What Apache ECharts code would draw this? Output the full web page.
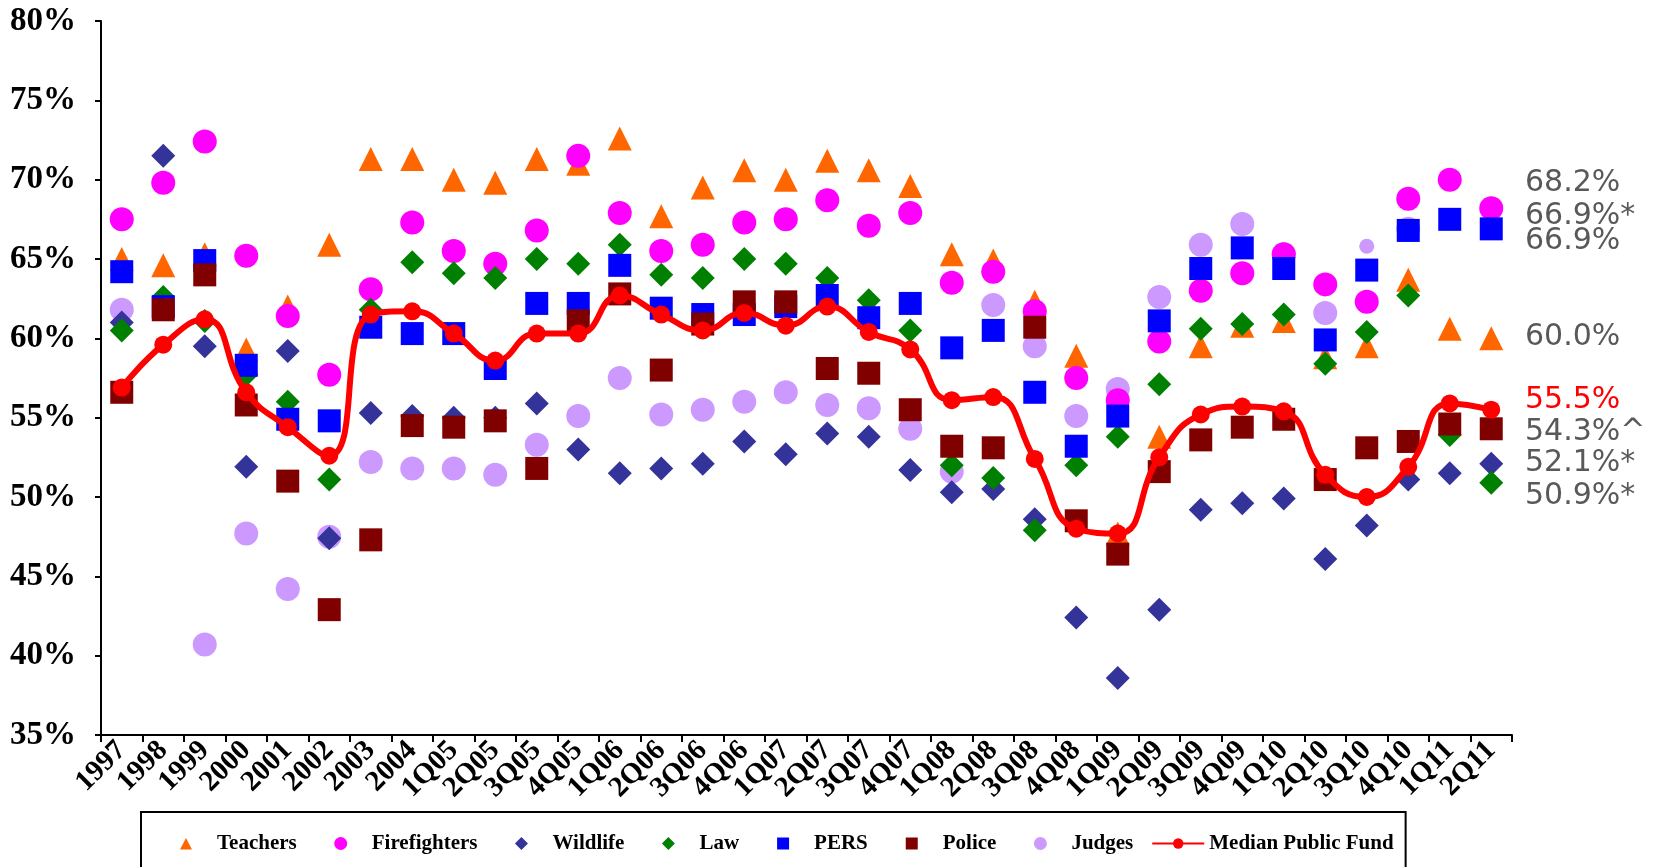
<!DOCTYPE html>
<html><head><meta charset="utf-8">
<script src="https://cdn.jsdelivr.net/npm/echarts@6/dist/echarts.min.js"></script>
<style>html,body{margin:0;padding:0;background:#fff}#c{width:1659px;height:867px}</style>
</head><body><div id="c"></div>
<script>
const categories = ['1997','1998','1999','2000','2001','2002','2003','2004','1Q05','2Q05','3Q05','4Q05','1Q06','2Q06','3Q06','4Q06','1Q07','2Q07','3Q07','4Q07','1Q08','2Q08','3Q08','4Q08','1Q09','2Q09','3Q09','4Q09','1Q10','2Q10','3Q10','4Q10','1Q11','2Q11'];
const teachers = [65.0,64.6,65.3,59.3,62.0,65.9,71.3,71.3,70.0,69.8,71.3,71.0,72.6,67.7,69.5,70.6,70.0,71.2,70.6,69.6,65.3,64.9,62.3,58.9,47.7,53.8,59.5,60.8,61.1,58.8,59.5,63.7,60.6,60.0];
const firefighters = [67.5,69.8,72.4,65.2,61.4,57.7,63.1,67.3,65.5,64.7,66.8,71.5,67.9,65.5,65.9,67.3,67.5,68.7,67.1,67.9,63.5,64.2,61.7,57.5,56.1,59.8,63.0,64.1,65.3,63.4,62.3,68.8,70.0,68.2];
const wildlife = [61.0,71.5,59.5,51.9,59.2,47.4,55.3,55.1,55.0,55.0,55.9,53.0,51.5,51.8,52.1,53.5,52.7,54.0,53.8,51.7,50.3,50.5,48.6,42.4,38.6,42.9,49.2,49.6,49.9,46.1,48.2,51.1,51.5,52.1];
const law = [60.5,62.6,61.1,57.7,56.0,51.1,61.8,64.8,64.1,63.8,65.0,64.7,65.9,64.0,63.8,65.0,64.7,63.8,62.4,60.5,52.0,51.2,47.9,52.0,53.8,57.1,60.6,60.9,61.5,58.4,60.4,62.7,53.9,50.9];
const pers = [64.2,62.0,64.9,58.3,54.9,54.8,60.7,60.3,60.3,58.1,62.2,62.2,64.6,61.9,61.5,61.5,62.0,62.7,61.3,62.2,59.4,60.5,56.6,53.2,55.1,61.1,64.4,65.7,64.4,59.9,64.3,66.8,67.5,66.9];
const police = [56.6,61.8,64.0,55.8,51.0,42.9,47.3,54.5,54.4,54.8,51.8,61.1,62.8,58.0,60.9,62.3,62.3,58.1,57.8,55.5,53.2,53.1,60.7,48.5,46.4,51.6,53.6,54.4,54.9,51.1,53.1,53.5,54.6,54.3];
const judges = [61.8,null,40.7,47.7,44.2,47.5,52.2,51.8,51.8,51.4,53.3,55.1,57.5,55.2,55.5,56.0,56.6,55.8,55.6,54.3,51.6,62.1,59.5,55.1,56.8,62.6,65.9,67.2,65.3,61.6,65.8,66.9,null,null];
const median = [56.9,59.6,61.2,56.6,54.4,52.6,61.5,61.7,60.3,58.6,60.3,60.3,62.7,61.5,60.5,61.6,60.8,62.0,60.4,59.3,56.1,56.3,52.4,48.0,47.7,52.5,55.2,55.7,55.4,51.4,50.0,51.9,55.9,55.5];
const yTicks = {min: 35, max: 80, step: 5};
const endNotes = ['68.2%','66.9%*','66.9%','60.0%','55.5%','54.3%^','52.1%*','50.9%*'];
const endNoteRed = [false,false,false,false,true,false,false,false];

const serif = '"Liberation Serif","Times New Roman",serif';
const noteY = [183,216,241,337,400,432,463,496];

// legend icons drawn in a 52x13 box so the symbol keeps its shape
const PAD = 'M0,0 M52,13 ';
const icons = {
  triangle: 'path://' + PAD + 'M20,12.5 L26,1 L32,12.5 Z',
  circle: 'path://' + PAD + 'M19.5,6.5 A6.5,6.5 0 1,1 32.5,6.5 A6.5,6.5 0 1,1 19.5,6.5 Z',
  diamond: 'path://' + PAD + 'M26,0 L32.5,6.5 L26,13 L19.5,6.5 Z',
  rect: 'path://' + PAD + 'M20,0.5 L32,0.5 L32,12.5 L20,12.5 Z'
};

function scat(name, data, symbol, color, size) {
  return {
    name, type: 'scatter', data, symbol, symbolSize: size,
    itemStyle: {color, opacity: 1}, emphasis: {disabled: true}
  };
}

const chart = echarts.init(document.getElementById('c'), null, {renderer: 'canvas'});
chart.setOption({
  animation: false,
  backgroundColor: '#fff',
  grid: {left: 101, right: 147, top: 21, bottom: 132, containLabel: false},
  xAxis: {
    type: 'category', data: categories, boundaryGap: true,
    axisLine: {lineStyle: {color: '#000', width: 2}},
    axisTick: {show: true, length: 7, lineStyle: {color: '#000', width: 2}},
    axisLabel: {rotate: 45, interval: 0, margin: 11, color: '#000', fontFamily: serif, fontWeight: 'bold', fontSize: 29},
    splitLine: {show: false}
  },
  yAxis: {
    type: 'value', min: yTicks.min, max: yTicks.max, interval: yTicks.step,
    axisLine: {show: true, lineStyle: {color: '#000', width: 2}},
    axisTick: {show: true, length: 6, lineStyle: {color: '#000', width: 2}},
    axisLabel: {formatter: '{value}%', margin: 25, color: '#000', fontFamily: serif, fontWeight: 'bold', fontSize: 33},
    splitLine: {show: false}
  },
  legend: {
    data: [
      {name: 'Teachers', icon: icons.triangle},
      {name: 'Firefighters', icon: icons.circle},
      {name: 'Wildlife', icon: icons.diamond},
      {name: 'Law', icon: icons.diamond},
      {name: 'PERS', icon: icons.rect},
      {name: 'Police', icon: icons.rect},
      {name: 'Judges', icon: icons.circle},
      {name: 'Median Public Fund'}
    ],
    left: 141, top: 812, orient: 'horizontal',
    itemWidth: 52, itemHeight: 13, itemGap: 18,
    padding: [21, 12, 24, 19],
    borderColor: '#000', borderWidth: 2,
    textStyle: {fontFamily: serif, fontWeight: 'bold', fontSize: 21, color: '#000'},
    selectedMode: false
  },
  graphic: endNotes.map((t, i) => ({
    type: 'text', x: 1525, y: noteY[i], z: 100,
    style: {text: t, fill: endNoteRed[i] ? '#FF0000' : '#595959', fontSize: 30, fontFamily: '"DejaVu Sans"', verticalAlign: 'middle', align: 'left'}
  })),
  series: [
    Object.assign(scat('Judges', judges, 'circle', '#CC99FF', 24), {
      symbolSize: (v, p) => p.name === '3Q10' ? 15 : 24
    }),
    {
      name: 'Median Public Fund', type: 'line', data: median, smooth: true,
      symbol: 'circle', symbolSize: 18, showAllSymbol: true,
      lineStyle: {color: '#FF0000', width: 6},
      itemStyle: {color: '#FF0000'}, emphasis: {disabled: true}
    },
    scat('Teachers', teachers, 'triangle', '#FF6600', 24),
    scat('Firefighters', firefighters, 'circle', '#FF00FF', 24),
    scat('Wildlife', wildlife, 'diamond', '#333399', 24),
    scat('Law', law, 'diamond', '#008000', 24),
    scat('PERS', pers, 'rect', '#0000FF', 23),
    scat('Police', police, 'rect', '#800000', 23)
  ]
});
</script></body></html>
